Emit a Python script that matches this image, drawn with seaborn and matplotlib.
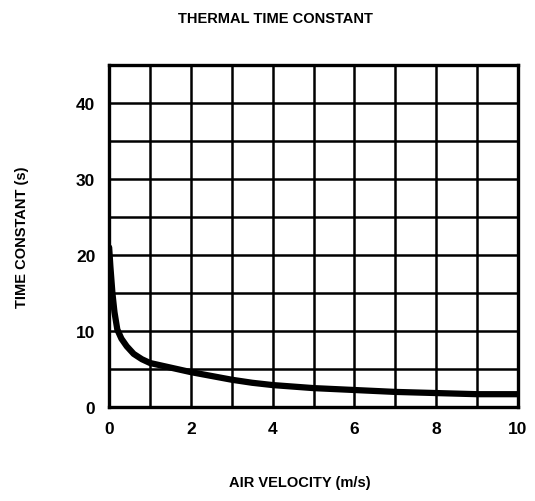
import matplotlib
matplotlib.use("Agg")
import pandas as pd
import matplotlib.pyplot as plt
import seaborn as sns

# -----------------------------
# Data
# -----------------------------

velocity = [0.0, 0.03, 0.08, 0.13, 0.2, 0.3, 0.43, 0.6, 0.8, 1.0, 1.5, 2.0, 2.5, 3.0,
            3.5, 4.0, 5.0, 6.0, 7.0, 8.0, 9.0, 10.0]
time_constant = [21.0, 18.5, 15.0, 12.5, 10.2, 9.0, 8.0, 7.0, 6.3, 5.8, 5.2, 4.6, 4.1, 3.6,
                 3.2, 2.9, 2.5, 2.25, 2.0, 1.85, 1.7, 1.7]

x_ticks = list(range(0, 11))
x_labels = ["0", "", "2", "", "4", "", "6", "", "8", "", "10"]
y_ticks = list(range(0, 46, 5))
y_labels = ["0", "", "10", "", "20", "", "30", "", "40", ""]

data = pd.DataFrame({"velocity": velocity, "tc": time_constant})

# -----------------------------
# Plot
# -----------------------------

sns.set_style("white")
plt.rcParams["font.family"] = ["Liberation Sans", "DejaVu Sans"]
plt.rcParams["font.weight"] = "bold"
plt.rcParams["text.color"] = "black"
plt.rcParams["xtick.color"] = "black"
plt.rcParams["ytick.color"] = "black"

fig = plt.figure(figsize=(5.35, 5.02), dpi=100)
ax = fig.add_axes([0.204, 0.187, 0.764, 0.682])

sns.lineplot(data=data, x="velocity", y="tc", ax=ax, color="black", linewidth=4.5)

ax.set_xlim(0, 10)
ax.set_ylim(0, 45)

# grid every 1 m/s and every 5 s
ax.set_xticks(x_ticks)
ax.set_yticks(y_ticks)
ax.set_xticklabels(x_labels, fontsize=12.5, fontweight="bold")
ax.set_yticklabels(y_labels, fontsize=12.5, fontweight="bold")
ax.grid(True, color="black", linewidth=1.8)
ax.set_axisbelow(True)
ax.tick_params(which="both", length=0, pad=10)

for s in ax.spines.values():
    s.set_color("black")
    s.set_linewidth(2.4)

ax.set_xlabel("")
ax.set_ylabel("")

fig.text(0.514, 0.962, "THERMAL TIME CONSTANT", ha="center", va="center",
         fontsize=10.5, fontweight="bold")
fig.text(0.56, 0.037, "AIR VELOCITY (m/s)", ha="center", va="center",
         fontsize=10.5, fontweight="bold")
fig.text(0.041, 0.528, "TIME CONSTANT (s)", ha="center", va="center",
         rotation=90, fontsize=10.5, fontweight="bold")

fig.savefig("out.png", dpi=100)
